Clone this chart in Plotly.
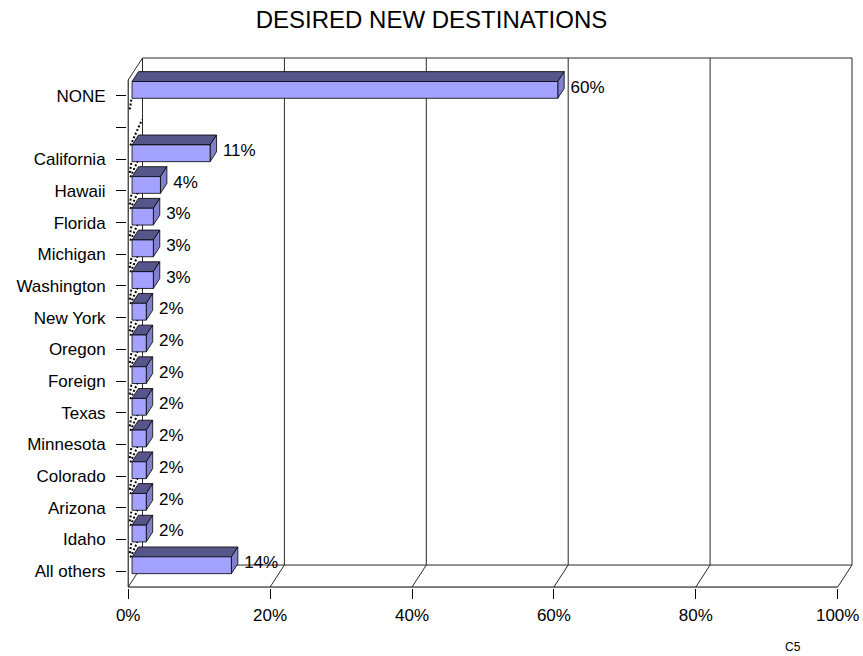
import plotly.graph_objects as go

# ---------------- data ----------------
categories = ["NONE", "", "California", "Hawaii", "Florida", "Michigan", "Washington",
              "New York", "Oregon", "Foreign", "Texas", "Minnesota", "Colorado",
              "Arizona", "Idaho", "All others"]
values = [60, None, 11, 4, 3, 3, 3, 2, 2, 2, 2, 2, 2, 2, 2, 14]
x_ticks = [0, 20, 40, 60, 80, 100]
x_tick_labels = ["0%", "20%", "40%", "60%", "80%", "100%"]
title_text = "DESIRED NEW DESTINATIONS"
footnote = "C5"

# ---------------- geometry / style ----------------
W, H = 863, 656
PLOT_L, PLOT_R, PLOT_T, PLOT_B = 127, 853, 57, 588
X0_PX = 128.2          # pixel of 0% on the front plane
PX_X = 7.095           # pixels per percent
FRONT_TOP_PX = 80      # pixel of the top of the front plane
PX_Y = 31.69           # pixels per category slot
DEPTH_PX = (14.3, -22.0)

n = len(categories)
x_range = [(PLOT_L - X0_PX) / PX_X, (PLOT_R - X0_PX) / PX_X]
y_top = (PLOT_T - FRONT_TOP_PX) / PX_Y - 0.5
y_bot = (PLOT_B - FRONT_TOP_PX) / PX_Y - 0.5
DX = DEPTH_PX[0] / PX_X
DY = DEPTH_PX[1] / PX_Y

HW = 0.265   # half bar thickness in slot units
T1, T2 = 0.27, 0.72   # bar depth span

FONT = "Arial, 'Liberation Sans', sans-serif"
C_FRONT = "#A3A3FF"
C_TOP = "#56568A"
C_SIDE = "#8080CC"
C_GRID = "#2a2a2a"

fig = go.Figure()

# ---------------- walls / floor ----------------
x_min, x_max = x_ticks[0], x_ticks[-1]
y_first, y_last = -0.5, n - 0.5

def line(x0, y0, x1, y1, color="black", width=1, dash=None):
    fig.add_shape(type="line", xref="x", yref="y", x0=x0, y0=y0, x1=x1, y1=y1,
                  line=dict(color=color, width=width, dash=dash), layer="below")

# back wall vertical gridlines
for t in x_ticks:
    line(t + DX, y_first + DY, t + DX, y_last + DY, color=C_GRID)
# back wall top
line(x_min + DX, y_first + DY, x_max + DX, y_first + DY, color=C_GRID)
# floor: back edge, front edge, depth lines
line(x_min + DX, y_last + DY, x_max + DX, y_last + DY, color=C_GRID)
line(x_min, y_last, x_max, y_last, color="black")
for t in x_ticks:
    line(t, y_last, t + DX, y_last + DY, color=C_GRID)
# left wall front edge and top slant
line(x_min, y_first, x_min, y_last, color="black")
line(x_min, y_first, x_min + DX, y_first + DY, color=C_GRID)

bars = [(i, v) for i, v in enumerate(values) if v is not None]
a, b = T1 * DX, T1 * DY
c, d = T2 * DX, T2 * DY

# ---------------- dotted hidden edges on the side wall (behind bars) ----------------
dx_pts, dy_pts = [], []
for (i, v), (j, w) in zip(bars[:-1], bars[1:]):
    yb = i + HW + b
    dx_pts += [a - 0.1, 0.1 * DX, None]
    dy_pts += [yb + 0.04, yb + 0.38, None]
    yt = j - HW + b + 0.02
    dx_pts += [0.15 * DX, 0.97 * DX, None]
    dy_pts += [yt, yt + 0.82 * DY - 0.25, None]
fig.add_trace(go.Scatter(x=dx_pts, y=dy_pts, mode="lines",
                         line=dict(color="black", width=2, dash="2px,2px"),
                         hoverinfo="skip", showlegend=False))

# ---------------- 3D bars ----------------
fx, fy, tx, ty, sx, sy = [], [], [], [], [], []
for i, v in bars:
    top, bot = i - HW, i + HW
    fx += [a, a + v, a + v, a, a, None]
    fy += [top + b, top + b, bot + b, bot + b, top + b, None]
    tx += [a, a + v, c + v, c, a, None]
    ty += [top + b, top + b, top + d, top + d, top + b, None]
    sx += [a + v, c + v, c + v, a + v, a + v, None]
    sy += [top + b, top + d, bot + d, bot + b, top + b, None]

for xs, ys, col in [(tx, ty, C_TOP), (sx, sy, C_SIDE), (fx, fy, C_FRONT)]:
    fig.add_trace(go.Scatter(x=xs, y=ys, mode="lines", fill="toself", fillcolor=col,
                             line=dict(color="black", width=0.8),
                             hoverinfo="skip", showlegend=False))

# ---------------- value labels ----------------
fig.add_trace(go.Scatter(
    x=[c + v + 0.9 for i, v in bars],
    y=[i + b - 0.05 for i, v in bars],
    text=[f"{v}%" for i, v in bars],
    mode="text", textposition="middle right",
    textfont=dict(family=FONT, size=17, color="black"),
    cliponaxis=False, hoverinfo="skip", showlegend=False))

# ---------------- layout ----------------
fig.update_layout(
    width=W, height=H,
    template="none",
    paper_bgcolor="white", plot_bgcolor="rgba(0,0,0,0)",
    margin=dict(l=PLOT_L, r=W - PLOT_R, t=PLOT_T, b=H - PLOT_B, pad=0, autoexpand=False),
    font=dict(family=FONT, size=17, color="black"),
    title=dict(text=title_text, x=0.5, xref="container", xanchor="center",
               y=1 - 20 / H, yref="container", yanchor="middle",
               font=dict(family=FONT, size=24, color="black")),
    xaxis=dict(range=x_range, tickvals=x_ticks, ticktext=x_tick_labels,
               showgrid=False, zeroline=False, showline=False,
               ticks="outside", ticklen=10, tickcolor="black", tickwidth=1,
               ticklabelstandoff=2, automargin=False,
               tickfont=dict(family=FONT, size=17, color="black")),
    yaxis=dict(range=[y_bot, y_top], tickvals=list(range(n)), ticktext=categories,
               showgrid=False, zeroline=False, showline=False,
               ticks="outside", ticklen=10, tickcolor="black", tickwidth=1,
               ticklabelstandoff=7, automargin=False,
               tickfont=dict(family=FONT, size=17, color="black")),
    annotations=[dict(text=footnote, xref="paper", yref="paper",
                      x=(793 - PLOT_L) / (PLOT_R - PLOT_L),
                      y=(PLOT_B - 647) / (PLOT_B - PLOT_T),
                      xanchor="center", yanchor="middle", showarrow=False,
                      font=dict(family=FONT, size=12, color="black"))],
)

fig.write_html("out.html")
